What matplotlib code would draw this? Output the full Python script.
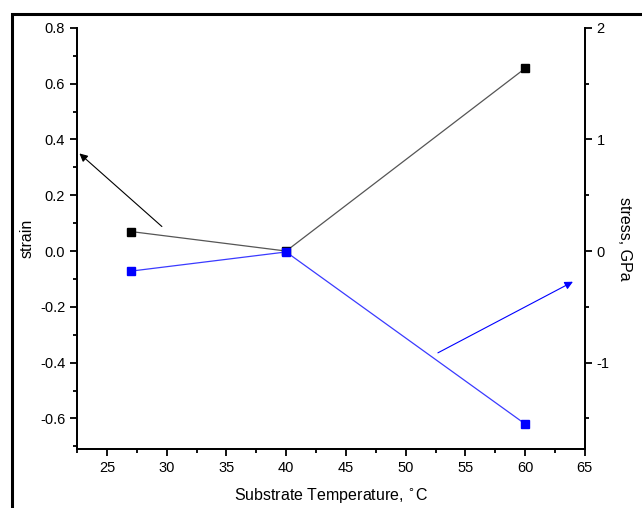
import matplotlib
matplotlib.use("Agg")
import matplotlib.pyplot as plt
from matplotlib.patches import Rectangle
from matplotlib.ticker import MultipleLocator

plt.rcParams['font.family'] = ['Liberation Sans', 'DejaVu Sans']
plt.rcParams['axes.unicode_minus'] = False

temperature = [27, 40, 60]
strain = [0.07, 0.0, 0.655]
stress = [-0.18, -0.008, -1.55]

fig = plt.figure(figsize=(6.42, 5.08), dpi=100)
ax = fig.add_axes([0.12, 0.116, 0.791, 0.829])
ax2 = ax.twinx()

ax.plot(temperature, strain, color='#555555', lw=0.9, marker='s', ms=6,
        mfc='black', mec='black', zorder=3)
ax2.plot(temperature, stress, color='#3a3aff', lw=0.9, marker='s', ms=6,
         mfc='blue', mec='blue', zorder=3)

ax.set_xlim(22.5, 65)
ax.set_ylim(-0.71, 0.8)
ax2.set_ylim(-0.71 * 2.5, 2.0)

ax.xaxis.set_major_locator(MultipleLocator(5))
ax.xaxis.set_minor_locator(MultipleLocator(2.5))
ax.yaxis.set_major_locator(MultipleLocator(0.2))
ax.yaxis.set_minor_locator(MultipleLocator(0.1))
ax2.yaxis.set_major_locator(MultipleLocator(1))
ax2.yaxis.set_minor_locator(MultipleLocator(0.5))

ax.set_yticks([0.8, 0.6, 0.4, 0.2, 0.0, -0.2, -0.4, -0.6])
ax.set_yticklabels(['0.8', '0.6', '0.4', '0.2', '0.0', '-0.2', '-0.4', '-0.6'])

for a in (ax, ax2):
    a.spines['top'].set_visible(False)
    for s in a.spines.values():
        s.set_linewidth(1.3)
    a.tick_params(which='major', direction='out', length=5, width=1.3, labelsize=10.5)
    a.tick_params(which='minor', direction='out', length=3, width=1.3)

ax.set_xlabel('Substrate Temperature, $^{\\circ}$C', fontsize=11.5, labelpad=8)
ax.set_ylabel('strain', fontsize=11.5, labelpad=4)
ax2.set_ylabel('stress, GPa', fontsize=11.5, rotation=-90, labelpad=16)

ax.annotate('', xy=(22.7, 0.35), xytext=(29.6, 0.088),
            arrowprops=dict(arrowstyle='-|>', color='black', lw=0.8,
                            mutation_scale=12, shrinkA=0, shrinkB=0))
ax.annotate('', xy=(64.0, -0.11), xytext=(52.7, -0.365),
            arrowprops=dict(arrowstyle='-|>', color='blue', lw=0.8,
                            mutation_scale=12, shrinkA=0, shrinkB=0))

fig.patches.append(Rectangle((12 / 642, -0.1), 1.2, (508 - 14) / 508 + 0.1,
                             transform=fig.transFigure, fill=False,
                             ec='black', lw=2.2, zorder=10))

fig.savefig('out.png', dpi=100)
